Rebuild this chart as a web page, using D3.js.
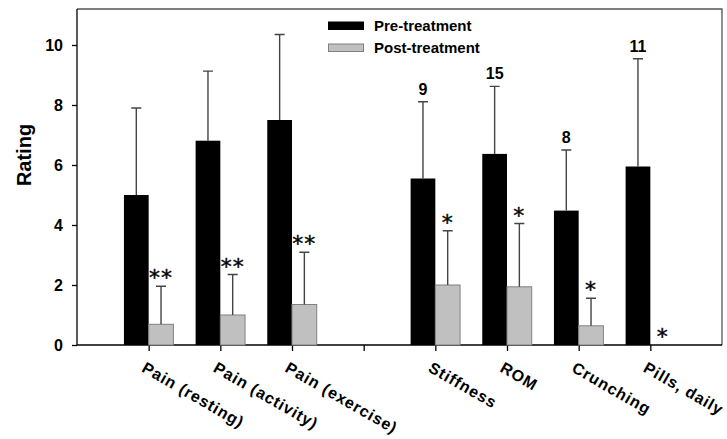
<!DOCTYPE html>
<html>
<head>
<meta charset="utf-8">
<script src="https://cdn.jsdelivr.net/npm/d3@7"></script>
<style>
  html, body { margin: 0; padding: 0; background: #fff; }
  svg { display: block; font-family: "Liberation Sans", Arial, sans-serif; }
</style>
</head>
<body>
<svg id="chart" width="727" height="439"></svg>
<script>
// Outcome measures; the blank entry leaves a gap between pain and function items
const categories = ["Pain (resting)", "Pain (activity)", "Pain (exercise)", "", "Stiffness", "ROM", "Crunching", "Pills, daily"];
const preValues  = [5.0, 6.81, 7.5, null, 5.55, 6.37, 4.48, 5.95];
const preErrors  = [2.9, 2.32, 2.85, null, 2.56, 2.25, 2.02, 3.59];
const postValues = [0.69, 1.0, 1.35, null, 2.0, 1.94, 0.64, 0];
const postErrors = [1.27, 1.35, 1.74, null, 1.81, 2.11, 0.92, 0];
const preLabels  = ["", "", "", "", "9", "15", "8", "11"];
const postMarks  = ["**", "**", "**", "", "*", "*", "*", "*"];
const yTicks     = [0, 2, 4, 6, 8, 10];
const seriesNames = ["Pre-treatment", "Post-treatment"];

const svg = d3.select("#chart");
const plotLeft = 77, plotRight = 722, plotTop = 9, plotBottom = 345;

// Categories sit at integer positions 1..8 on a 0..9 axis
const x = d3.scaleLinear().domain([0, categories.length + 1]).range([plotLeft, plotRight]);
const y = d3.scaleLinear().domain([0, 11.2]).range([plotBottom, plotTop]);
const barW = 0.345; // in category units

const rows = categories.map((c, i) => ({
  cat: c, pos: i + 1,
  pre: preValues[i], preErr: preErrors[i],
  post: postValues[i], postErr: postErrors[i],
  preLabel: preLabels[i], postMark: postMarks[i]
}));

// Frame: top and right edges
svg.append("path")
  .attr("d", `M${plotLeft},${plotTop}H${plotRight}V${plotBottom}`)
  .attr("fill", "none").attr("stroke", "#555").attr("stroke-width", 1.3);

// Y axis
const yAxis = svg.append("g")
  .attr("transform", `translate(${plotLeft},0)`)
  .call(d3.axisLeft(y).tickValues(yTicks).tickSize(5).tickPadding(9).tickFormat(d3.format("d")));
yAxis.select(".domain").attr("d", `M0,${plotTop}V${plotBottom}`).attr("stroke", "#000").attr("stroke-width", 1.3);
yAxis.selectAll(".tick line").attr("stroke", "#000").attr("stroke-width", 1.3);
yAxis.selectAll(".tick text")
  .attr("font-family", "Liberation Sans, Arial, sans-serif")
  .attr("font-size", 16).attr("font-weight", "bold").attr("fill", "#000");

svg.append("text")
  .attr("transform", "translate(31,155) rotate(-90)")
  .attr("text-anchor", "middle")
  .attr("font-size", 20).attr("font-weight", "bold")
  .text("Rating");

// X axis with ticks at each category position
const xAxis = svg.append("g")
  .attr("transform", `translate(0,${plotBottom})`)
  .call(d3.axisBottom(x).tickValues(d3.range(1, categories.length + 1)).tickSize(6).tickFormat(""));
xAxis.select(".domain").attr("d", `M${plotLeft},0H${plotRight}`).attr("stroke", "#000").attr("stroke-width", 1.3);
xAxis.selectAll(".tick line").attr("stroke", "#000").attr("stroke-width", 1.3);

// Rotated category labels
svg.append("g").selectAll("text")
  .data(rows.filter(d => d.cat))
  .join("text")
  .attr("transform", d => `translate(${x(d.pos) - 8},${plotBottom + 26}) rotate(30)`)
  .attr("font-size", 16).attr("font-weight", "bold")
  .attr("letter-spacing", 0.9)
  .text(d => d.cat);

const barRows = rows.filter(d => d.pre !== null);

// Pre-treatment bars
svg.append("g").selectAll("rect")
  .data(barRows)
  .join("rect")
  .attr("x", d => x(d.pos - barW))
  .attr("width", d => x(d.pos) - x(d.pos - barW))
  .attr("y", d => y(d.pre))
  .attr("height", d => y(0) - y(d.pre))
  .attr("fill", "#000");

// Post-treatment bars
svg.append("g").selectAll("rect")
  .data(barRows.filter(d => d.post > 0))
  .join("rect")
  .attr("x", d => x(d.pos))
  .attr("width", d => x(d.pos + barW) - x(d.pos))
  .attr("y", d => y(d.post))
  .attr("height", d => y(0) - y(d.post))
  .attr("fill", "#c0c0c0").attr("stroke", "#808080").attr("stroke-width", 1);

// Upper error bars
function errorBars(data, centerOf, valueOf, errOf) {
  const g = svg.append("g").attr("stroke", "#444").attr("stroke-width", 1.4).attr("fill", "none");
  g.selectAll("path")
    .data(data.filter(d => errOf(d) > 0))
    .join("path")
    .attr("d", d => {
      const cx = x(centerOf(d));
      const y0 = y(valueOf(d)), y1 = y(valueOf(d) + errOf(d));
      return `M${cx},${y0}V${y1}M${cx - 5},${y1}H${cx + 5}`;
    });
}
errorBars(barRows, d => d.pos - barW / 2, d => d.pre, d => d.preErr);
errorBars(barRows, d => d.pos + barW / 2, d => d.post, d => d.postErr);

// Sample-size labels over pre-treatment error bars
svg.append("g").selectAll("text")
  .data(barRows.filter(d => d.preLabel))
  .join("text")
  .attr("x", d => x(d.pos - barW / 2))
  .attr("y", d => y(d.pre + d.preErr) - 7)
  .attr("text-anchor", "middle")
  .attr("font-size", 16).attr("font-weight", "bold")
  .text(d => d.preLabel);

// Significance markers over post-treatment error bars
svg.append("g").selectAll("text")
  .data(barRows.filter(d => d.postMark))
  .join("text")
  .attr("x", d => x(d.pos + barW / 2))
  .attr("y", d => y(d.post + d.postErr) - 1)
  .attr("text-anchor", "middle")
  .attr("font-family", "DejaVu Sans, sans-serif")
  .attr("font-size", 22)
  .attr("letter-spacing", 1)
  .attr("fill", "#000")
  .attr("stroke", "#000").attr("stroke-width", 0.4)
  .text(d => d.postMark);

// Legend
const legend = svg.append("g");
const legendRows = [
  { name: seriesNames[0], fill: "#000", stroke: "#000", y: 22 },
  { name: seriesNames[1], fill: "#c0c0c0", stroke: "#808080", y: 44 }
];
legend.selectAll("rect")
  .data(legendRows)
  .join("rect")
  .attr("x", 328.5).attr("y", d => d.y)
  .attr("width", 35).attr("height", 7.5)
  .attr("fill", d => d.fill).attr("stroke", d => d.stroke);
legend.selectAll("text")
  .data(legendRows)
  .join("text")
  .attr("x", 374).attr("y", d => d.y + 9)
  .attr("font-size", 15).attr("font-weight", "bold")
  .text(d => d.name);
</script>
</body>
</html>
